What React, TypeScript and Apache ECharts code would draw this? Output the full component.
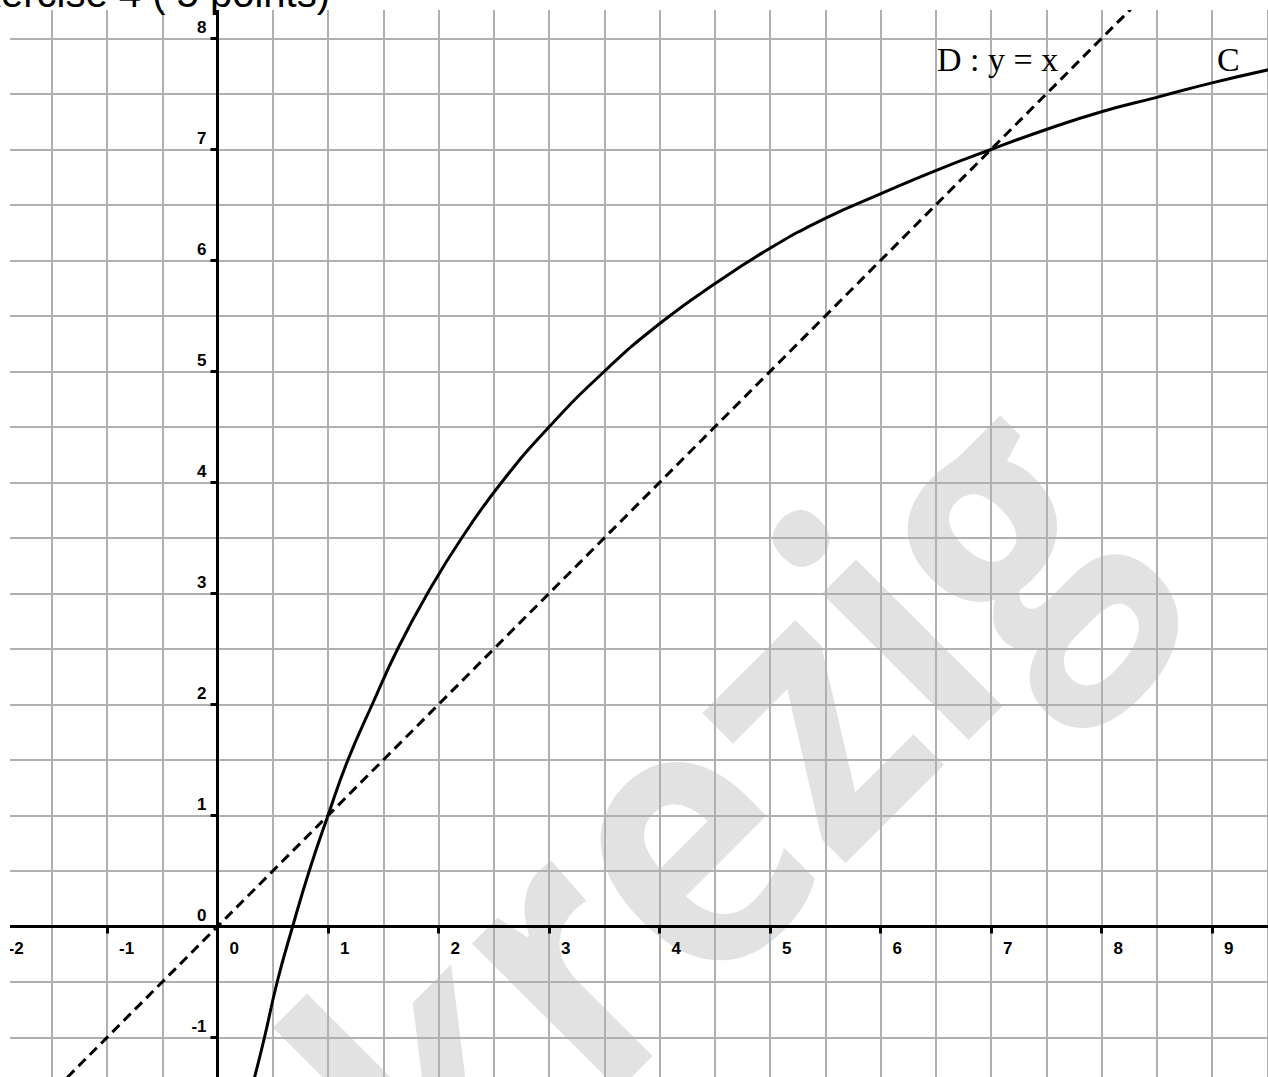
import React, { useEffect, useRef } from "react";
import * as echarts from "echarts";

// Curve C
const C_X = [0.33, 0.425, 0.54, 0.68, 0.83, 1.0, 1.18, 1.4, 1.63, 1.9, 2.21, 2.57, 3.0, 3.5, 4.0, 4.5, 5.0, 5.5, 6.0, 6.5, 7.0, 7.5, 8.0, 8.5, 9.0, 9.52];
const C_Y = [-1.38, -1.0, -0.5, 0, 0.5, 1.0, 1.5, 2.0, 2.5, 3.0, 3.5, 4.0, 4.5, 5.0, 5.43, 5.79, 6.11, 6.38, 6.6, 6.81, 7.0, 7.18, 7.34, 7.47, 7.6, 7.72];

// Line D : y = x (visible ends)
const D_X = [-1.36, 8.3];
const D_Y = [-1.36, 8.3];

// Tick labels
const X_TICK_LABELS = ["-2", "-1", "0", "1", "2", "3", "4", "5", "6", "7", "8", "9"];
const Y_TICK_LABELS = ["-1", "0", "1", "2", "3", "4", "5", "6", "7", "8"];

const TITLE = "Exercise 4 ( 5 points)";
const D_LABEL = "D : y = x";
const C_LABEL = "C";
const WATERMARK = "krezig";

export default function App() {
  const ref = useRef<HTMLDivElement>(null);

  useEffect(() => {
    if (!ref.current) return;
    const chart = echarts.init(ref.current, undefined, { renderer: "svg" });
    const gridColor = "#b0b0b0";
    const fmt = (labels: string[]) => (v: number) => {
      const s = String(Math.round(v * 100) / 100);
      return labels.indexOf(s) >= 0 ? s : "";
    };
    const option: any = {
      animation: false,
      backgroundColor: "#ffffff",
      grid: {
        left: -3.5,
        right: -54.5,
        top: -72.5,
        bottom: -71.5,
        containLabel: false,
        outerBoundsMode: "none",
      },
      xAxis: {
        type: "value",
        min: -2,
        max: 10,
        interval: 1,
        offset: -222,
        axisLine: { onZero: false, lineStyle: { color: "#000", width: 3 } },
        axisTick: { show: true, length: 7, lineStyle: { color: "#000", width: 3 } },
        axisLabel: {
          formatter: fmt(X_TICK_LABELS),
          color: "#000",
          fontSize: 17,
          fontWeight: "bold",
          fontFamily: "Liberation Sans",
          align: "left",
          padding: [0, 0, 0, 12],
          margin: 13,
          showMinLabel: true,
          showMaxLabel: true,
          hideOverlap: false,
        },
        splitLine: { show: true, lineStyle: { color: gridColor, width: 2 } },
        minorTick: { show: false, splitNumber: 2 },
        minorSplitLine: { show: true, lineStyle: { color: gridColor, width: 2 } },
      },
      yAxis: {
        type: "value",
        min: -2,
        max: 9,
        interval: 1,
        offset: -221,
        axisLine: { onZero: false, lineStyle: { color: "#000", width: 3 } },
        axisTick: { show: true, length: 7, lineStyle: { color: "#000", width: 3 } },
        axisLabel: {
          formatter: fmt(Y_TICK_LABELS),
          color: "#000",
          fontSize: 17,
          fontWeight: "bold",
          fontFamily: "Liberation Sans",
          align: "right",
          verticalAlign: "bottom",
          padding: [0, 0, 3, 0],
          margin: 11,
          showMinLabel: true,
          showMaxLabel: true,
          hideOverlap: false,
        },
        splitLine: { show: true, lineStyle: { color: gridColor, width: 2 } },
        minorTick: { show: false, splitNumber: 2 },
        minorSplitLine: { show: true, lineStyle: { color: gridColor, width: 2 } },
      },
      series: [
        {
          type: "line",
          name: "D",
          data: D_X.map((x, i) => [x, D_Y[i]]),
          showSymbol: false,
          lineStyle: { color: "#000", width: 3, type: [10, 6] },
          z: 4,
        },
        {
          type: "line",
          name: "C",
          data: C_X.map((x, i) => [x, C_Y[i]]),
          showSymbol: false,
          smooth: 0.5,
          lineStyle: { color: "#000", width: 3 },
          z: 5,
        },
      ],
      graphic: {
        elements: [
          {
            type: "text",
            x: 700,
            y: 800,
            rotation: Math.PI / 4,
            scaleX: 0.85,
            z: -10,
            silent: true,
            style: {
              text: WATERMARK,
              fill: "rgba(185,185,185,0.42)",
              font: 'bold 380px "Open Sans"',
              align: "center",
              verticalAlign: "middle",
              textAlign: "center",
              textVerticalAlign: "middle",
            },
          },
          {
            type: "rect",
            z: 50,
            silent: true,
            shape: { x: 0, y: 0, width: 1268, height: 10 },
            style: { fill: "#ffffff" },
          },
          {
            type: "rect",
            z: 50,
            silent: true,
            shape: { x: 0, y: 0, width: 10, height: 1077 },
            style: { fill: "#ffffff" },
          },
          {
            type: "text",
            x: 330,
            y: -6.9,
            z: 60,
            silent: true,
            style: {
              text: TITLE,
              fill: "#000",
              font: '40px "Liberation Sans"',
              align: "right",
              verticalAlign: "middle",
              textAlign: "right",
              textVerticalAlign: "middle",
            },
          },
          {
            type: "text",
            x: 937,
            y: 59.5,
            z: 60,
            silent: true,
            style: {
              text: D_LABEL,
              fill: "#000",
              font: '34px "Liberation Serif"',
              align: "left",
              verticalAlign: "middle",
              textAlign: "left",
              textVerticalAlign: "middle",
            },
          },
          {
            type: "text",
            x: 1217,
            y: 59.5,
            z: 60,
            silent: true,
            style: {
              text: C_LABEL,
              fill: "#000",
              font: '34px "Liberation Serif"',
              align: "left",
              verticalAlign: "middle",
              textAlign: "left",
              textVerticalAlign: "middle",
            },
          },
        ],
      },
    };
    chart.setOption(option);
    return () => chart.dispose();
  }, []);

  return (
    <div
      style={{
        position: "absolute",
        left: 0,
        top: 0,
        width: 1268,
        height: 1077,
        overflow: "hidden",
        background: "#fff",
      }}
    >
      <div ref={ref} style={{ width: 1268, height: 1077 }} />
    </div>
  );
}
